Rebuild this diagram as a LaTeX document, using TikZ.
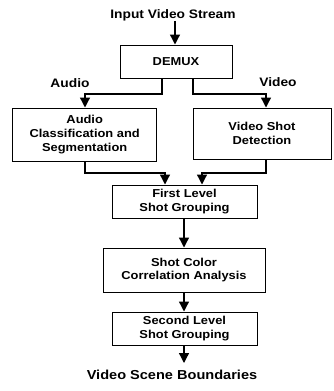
\documentclass[tikz,border=0pt]{standalone}
\usepackage{fontspec}
\setmainfont{Liberation Sans}[FakeStretch=1.12]
\usetikzlibrary{arrows.meta}
\begin{document}
\begin{tikzpicture}[x=1pt,y=-1pt,
  box/.style={draw,line width=1pt,align=center,inner sep=0pt,
    font=\bfseries\fontsize{11.5}{13.7}\selectfont},
  lbl/.style={inner sep=0pt,font=\bfseries\fontsize{12.3}{14}\selectfont},
  conn/.style={line width=1.3pt,-{Triangle[width=10pt,length=10pt]}}]
\useasboundingbox (0,0) rectangle (333,391);
\node[lbl] (input) at (173,15) {Input Video Stream};
\node[box,minimum width=112pt,minimum height=33pt] (demux) at (176,61.5) {DEMUX};
\node[lbl] (alab) at (70,83) {Audio};
\node[lbl] (vlab) at (278,82) {Video};
\node[box,minimum width=144pt,minimum height=53pt] (audio) at (84.7,134.5) {Audio\\Classification and\\Segmentation};
\node[box,minimum width=138pt,minimum height=51pt] (video) at (262,133.5) {Video Shot\\Detection};
\node[box,minimum width=145pt,minimum height=33pt] (flsg) at (184.5,201.5) {First Level\\Shot Grouping};
\node[box,minimum width=162pt,minimum height=44pt] (scca) at (184,270) {Shot Color\\Correlation Analysis};
\node[box,minimum width=145pt,minimum height=33pt] (slsg) at (184.5,328.5) {Second Level\\Shot Grouping};
\node[lbl,font=\bfseries\fontsize{13}{15}\selectfont] (out) at (172,375) {Video Scene Boundaries};
\coordinate (outtip) at (184,363);
\draw[conn] (input.south -| 175,0) -- (demux.north -| 175,0);
\draw[conn] (demux.south -| 162,0) -- (162,94) -| (audio.north -| 85,0);
\draw[conn] (demux.south -| 193,0) -- (193,94) -| (video.north -| 266,0);
\draw[conn] (audio.south -| 85,0) -- (85,173) -| (flsg.north -| 165,0);
\draw[conn] (video.south -| 266,0) -- (266,173) -| (flsg.north -| 202,0);
\draw[conn] (flsg.south -| 184,0) -- (scca.north -| 184,0);
\draw[conn] (scca.south -| 184,0) -- (slsg.north -| 184,0);
\draw[conn] (slsg.south -| 184,0) -- (outtip);
\end{tikzpicture}
\end{document}
